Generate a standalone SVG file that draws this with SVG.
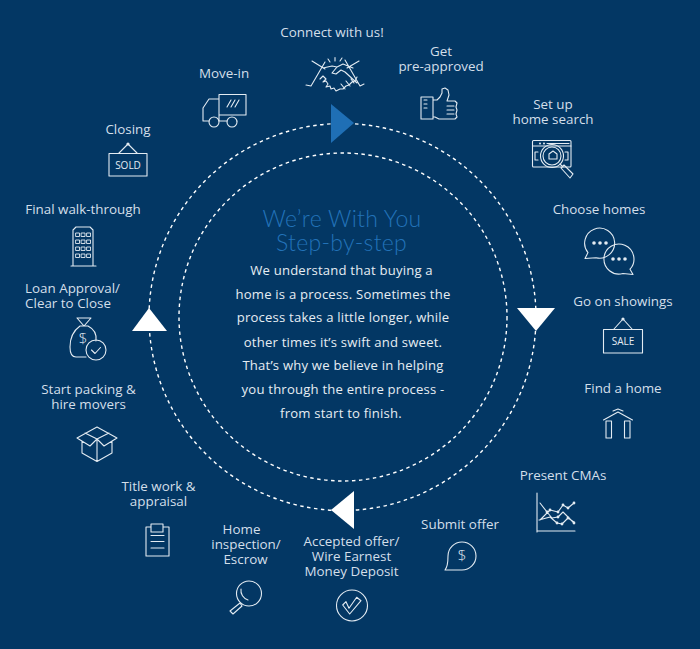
<svg xmlns="http://www.w3.org/2000/svg" width="700" height="649" viewBox="0 0 700 649">
<style>
text{font-family:"Open Sans","DejaVu Sans",sans-serif;font-size:13.4px;fill:#d3dfea;text-anchor:middle}
.b{font-size:13.12px;fill:#e6edf3;letter-spacing:.2px}
.t{font-family:Lato,"Open Sans",sans-serif;font-size:23px;font-weight:300;letter-spacing:.3px;fill:#2272b8}
.i{fill:none;stroke:#e3ebf2;stroke-width:1.1;stroke-linejoin:round;stroke-linecap:round}
.d{fill:none;stroke:#fff;stroke-width:1.4;stroke-dasharray:3.5 3.5}
.s{font-size:10px;fill:#e3ebf2}
.m{font-size:15px;font-weight:300;fill:#e3ebf2}
.f{fill:#e3ebf2}
</style>
<rect width="700" height="649" fill="#033764"/>
<g id="connectors">
<circle class="d" cx="342.5" cy="317" r="193.5"/>
<circle class="d" cx="343" cy="317" r="164"/>
<polygon points="331,104 331,143 354,123" fill="#1f6fb5"/>
<polygon points="517,308 555,308 536,331" fill="#fff"/>
<polygon points="331,510 354,491 354,529" fill="#fff"/>
<polygon points="149,308 132,331 167,331" fill="#fff"/>
</g>
<g id="center">
<text class="t" x="342" y="227">We’re With You</text>
<text class="t" x="341.500" y="251">Step-by-step</text>
<text class="b" x="341.500" y="275">We understand that buying a</text>
<text class="b" x="343" y="299">home is a process. Sometimes the</text>
<text class="b" x="343" y="322">process takes a little longer, while</text>
<text class="b" x="343" y="346.500">other times it’s swift and sweet.</text>
<text class="b" x="343" y="370">That’s why we believe in helping</text>
<text class="b" x="343" y="394">you through the entire process -</text>
<text class="b" x="341" y="418">from start to finish.</text>
</g>
<g id="connect">
<text x="332" y="37">Connect with us!</text>
<path class="i" d="M312 61l13 8M359 61l-12 7M306 85l5 1 14-24 M364 84l-4 2-15-26M323 68l9-2 5 1 6-3 5 2 5 2M337 67l-5 6 4 1 5-4 4 2 12 11M320 79l3-3 3 3-3 3 3-1 2 3-2 3 4-1 1 3 3-1 2 3 4-2 3 0 3-3 3-1 3-3 3-1 2-4M341 84l4 5M346 81l4 5M351 79l3 4M330 62l-2-3M335 61v-3.500M340 61l2-3"/>
</g>
<g id="preapproved">
<text x="441" y="56">Get</text><text x="441" y="71">pre-approved</text>
<path class="i" d="M421 97h12v22h-12zM433 100h4l3-3 2-4v-4l3-1 3 2 1 5-2 6h8l2 2-1 4 1 3-1 4 1 3-2 2h-16l-4-2h-2M424 100h3M424 104h3M424 108h3M447 106h7M447 110h7M447 114h7"/>
</g>
<g id="search">
<text x="553" y="109">Set up</text><text x="553" y="124">home search</text>
<rect class="i" x="532.500" y="140.500" width="38.500" height="26.500" rx="1"/>
<path class="i" d="M533 146h38M547 143.500h22M538 152h-3v8h3M565 152h3v8h-3"/>
<circle class="i" cx="552" cy="156" r="11.500" fill="#033764"/><circle class="i" cx="552" cy="156" r="9"/>
<path class="i" d="M549 154l4-3 4 3v5h-8zM560 164l3 3M561 168l3-3 9 9-3 4z"/>
<circle class="f" cx="540" cy="143.500" r="1"/><circle class="f" cx="544" cy="143.500" r="1"/>
</g>
<g id="choose">
<text x="599" y="214">Choose homes</text>
<path class="i" d="M588 252.600A15 15 0 1 1 596 257.700L585 258.500z"/>
<path class="i" d="M623 273.500A15 15 0 1 1 630 269.200L633 274.500z" fill="#033764"/>
<g class="f"><circle cx="594" cy="243" r="1.800"/><circle cx="600" cy="243" r="1.800"/><circle cx="606" cy="243" r="1.800"/><circle cx="613" cy="259" r="1.800"/><circle cx="619" cy="259" r="1.800"/><circle cx="625" cy="259" r="1.800"/></g>
</g>
<g id="showings">
<text x="623" y="306">Go on showings</text>
<rect class="i" x="603.500" y="329.500" width="39" height="23.500"/>
<path class="i" d="M614 329l9-10 9 10"/><circle class="f" cx="623" cy="319" r="1.600"/>
<text class="s" x="623" y="345">SALE</text>
</g>
<g id="find">
<text x="623" y="393">Find a home</text>
<path class="i" d="M603.500 420l14.500-8 14.500 8M613 411l5-2 5 2"/>
<rect class="i" x="606" y="421" width="5.500" height="17"/><rect class="i" x="624.500" y="421" width="5.500" height="17"/>
</g>
<g id="cma">
<text x="563" y="480">Present CMAs</text>
<path class="i" d="M537 493v39M537 531h38M540 520l10-10 8 2 5-7 5 3 6-5M540 503l7 9 5 6 6-1 5-5 11 11M539 520l11-3 7 6 5 1 6-6 6 4"/>
<g class="f"><circle cx="550" cy="510" r="1.400"/><circle cx="558" cy="512" r="1.400"/><circle cx="563" cy="505" r="1.400"/><circle cx="568" cy="508" r="1.400"/><circle cx="574" cy="503" r="1.400"/><circle cx="547" cy="512" r="1.400"/><circle cx="558" cy="517" r="1.400"/><circle cx="574" cy="523" r="1.400"/><circle cx="557" cy="523" r="1.400"/><circle cx="562" cy="524" r="1.400"/><circle cx="568" cy="518" r="1.400"/></g>
</g>
<g id="offer">
<text x="460" y="529">Submit offer</text>
<path class="i" d="M445 570h17a14 14 0 1 0-14-14c0 6-.5 11-3 14z"/>
<text class="m" x="462" y="561">$</text>
</g>
<g id="accepted">
<text x="351.500" y="546">Accepted offer/</text><text x="351.500" y="561">Wire Earnest</text><text x="351.500" y="576">Money Deposit</text>
<circle class="i" cx="352" cy="605.500" r="15.500"/>
<path class="i" d="M342.700 605L346 601.700 349 608.300 356.700 597.300 361 600.700 349.700 614z"/>
</g>
<g id="inspection">
<text x="241.500" y="534">Home</text><text x="246" y="549">inspection/</text><text x="245.500" y="564">Escrow</text>
<circle class="i" cx="249" cy="593.500" r="12.500"/>
<path class="i" d="M241 589a10 10 0 0 0 7 11M240 603l-10 8 3 3 9-8z"/>
</g>
<g id="title">
<text x="158.500" y="491">Title work &amp;</text><text x="158.500" y="506">appraisal</text>
<path class="i" d="M151 527h-5v29h23v-29h-6M151 524h12v8h-12zM151 535.500h13M151 541.500h13M151 548h13"/>
</g>
<g id="packing">
<text x="88.500" y="394">Start packing &amp;</text><text x="88.500" y="409">hire movers</text>
<path class="i" d="M97 427L77 438 90 446 97 439 104 446 117 438zM85 433l12 6 12-6M82 441v12l15 8.500 15-8.500v-12M97 439v22.500"/>
</g>
<g id="loan">
<text x="72.500" y="293">Loan Approval/</text><text x="68" y="308">Clear to Close</text>
<path class="i" d="M77 318h14l-7 8zM80 326h8c6 3 9 8 8 15M86 357h-10c-4 0-6-3-6-10 0-9 3-16 10-21"/>
<circle class="i" cx="96" cy="350" r="10"/><path class="i" d="M91.500 350l3.500 3.500 5.500-6"/>
<text class="m" x="83" y="344">$</text>
</g>
<g id="walk">
<text x="83" y="214">Final walk-through</text>
<path class="i" d="M73 266v-36l3-3h14l3 3v36M71 266h25"/>
<path class="i" style="stroke-width:.9" d="M76 233h3.500v3.500h-3.500zM81.500 233h3.500v3.500h-3.500zM87 233h3.500v3.500h-3.500zM76 240h3.500v3.500h-3.500zM81.500 240h3.500v3.500h-3.500zM87 240h3.500v3.500h-3.500zM76 247h3.500v3.500h-3.500zM81.500 247h3.500v3.500h-3.500zM87 247h3.500v3.500h-3.500zM76 254h3.500v3.500h-3.500zM81.500 254h3.500v3.500h-3.500zM87 254h3.500v3.500h-3.500z"/>
</g>
<g id="closing">
<text x="128" y="134">Closing</text>
<rect class="i" x="109" y="153.500" width="38" height="22.500"/>
<path class="i" d="M119 153l9-9 9 9"/><circle class="f" cx="128" cy="144" r="1.600"/>
<text class="s" x="128" y="168.500">SOLD</text>
</g>
<g id="movein">
<text x="224" y="78">Move-in</text>
<path class="i" d="M219 94.500h27v20.500h-27zM219 99h-10l-6 9v13h6M219 115v6M219 121h8M237 121h0M227 107l4-7M231 107l4-7M235 107l4-7"/>
<circle class="i" cx="214" cy="122" r="5"/><circle class="i" cx="232" cy="122" r="5"/>
</g>
</svg>
